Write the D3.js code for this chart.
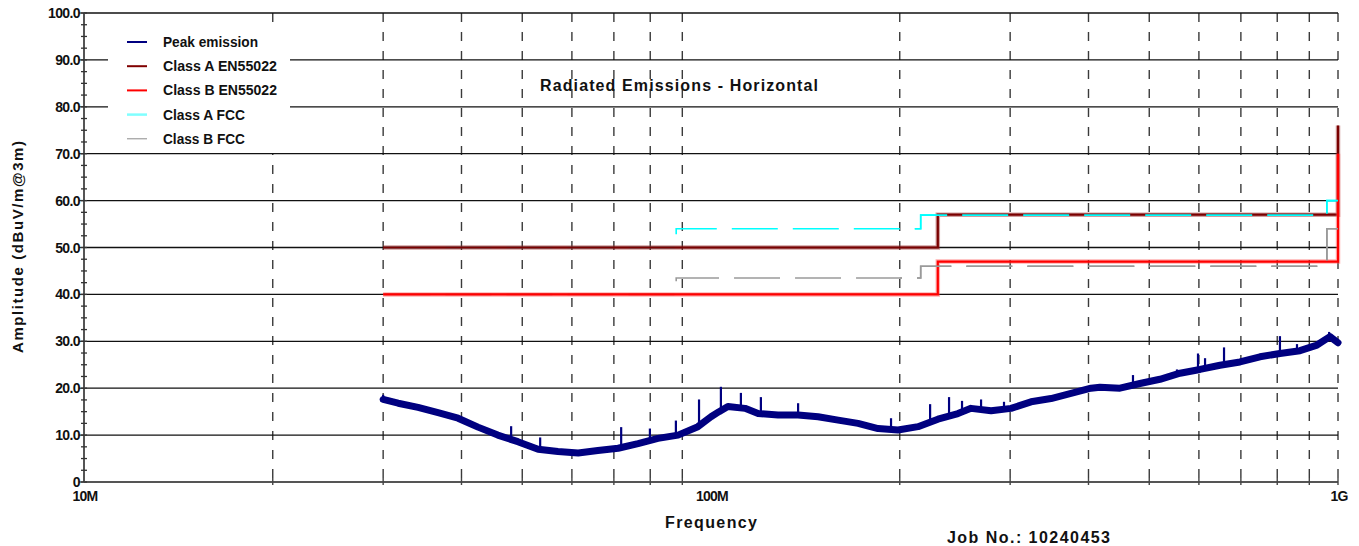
<!DOCTYPE html>
<html><head><meta charset="utf-8">
<script src="https://cdn.jsdelivr.net/npm/d3@7/dist/d3.min.js"></script>
<style>
html,body{margin:0;padding:0;background:#fff;}
svg{display:block;font-family:"Liberation Sans",Arial,sans-serif;}
</style></head>
<body>
<svg id="chart" width="1359" height="546"></svg>
<script>
// ---- data (frequency in MHz, level in dBuV/m) ----
const yTicks = [0,10,20,30,40,50,60,70,80,90,100];
const yTickLabels = ["0","10.0","20.0","30.0","40.0","50.0","60.0","70.0","80.0","90.0","100.0"];
const xTickValues = [10,100,1000];
const xTickLabels = ["10M","100M","1G"];
const gridFreqs = [20,30,40,50,60,70,80,90,200,300,400,500,600,700,800,900,1000];

const peakFreq  = [30.0,31.7,34.1,36.7,39.5,42.5,45.7,49.2,53.0,57.0,61.4,66.0,71.1,76.5,82.3,88.6,95.3,100,103,106.4,113.3,118.9,127.9,137.7,148.2,159.5,171.6,184.7,198.7,213.9,230.1,247.7,259.8,279.7,301,323.9,348.6,375.1,403.7,417.2,449,483.2,520,559.8,602.4,648.3,697.7,750.8,808,869.6,925.7,970.9,1000];
const peakLevel = [17.6,16.8,15.9,14.8,13.6,11.7,10.0,8.6,7.0,6.5,6.2,6.7,7.2,8.2,9.3,10.0,11.8,13.9,15.0,16.1,15.7,14.6,14.3,14.3,13.9,13.2,12.5,11.4,11.1,11.8,13.4,14.6,15.7,15.2,15.7,17.1,17.8,18.9,20.0,20.2,20.0,21.0,21.9,23.2,24.0,24.9,25.6,26.7,27.4,28.0,29.2,31.0,29.7];
const spikeFreq = [30.0,48.0,53.4,71.9,79.9,87.9,95.7,103.7,111.6,120.1,137.7,193.7,223.6,239.7,251.4,269.6,293.3,471,553.6,598,613.7,658,808,860.2,968];
const spikeTop  = [18.6,11.9,9.5,11.7,11.4,13.1,17.6,20.3,19.0,18.1,16.8,13.6,16.6,18.1,17.3,17.6,17.1,22.8,24.0,27.4,26.4,28.7,31.1,29.4,32.0];

const classAEN_f  = [30,230,230,1000,1000];
const classAEN_v  = [50,50,57,57,76];
const classBEN_f  = [30,230,230,1000,1000];
const classBEN_v  = [40,40,47,47,70];
const classAFCC_f = [30,88,88,216,216,960,960,1000];
const classAFCC_v = [50,50,54,54,56.9,56.9,60,60];
const classBFCC_f = [30,88,88,216,216,960,960,1000];
const classBFCC_v = [40,40,43.5,43.5,46,46,54,54];

const legendNames = ["Peak emission","Class A EN55022","Class B EN55022","Class A FCC","Class B FCC"];

// ---- layout ----
const svg = d3.select("#chart");
const x = d3.scaleLog().domain([10,1000]).range([84,1338]);
const y = d3.scaleLinear().domain([0,100]).range([482,13]);

// vertical dashed grid
svg.append("g").selectAll("line").data(gridFreqs).join("line")
  .attr("x1",d=>x(d)).attr("x2",d=>x(d)).attr("y1",y(100)).attr("y2",y(0)+3)
  .attr("stroke","#3a3a3a").attr("stroke-width",1.4).attr("stroke-dasharray","9,10");

// horizontal solid grid
svg.append("g").selectAll("line").data(yTicks.filter(d=>d>0)).join("line")
  .attr("x1",x(10)).attr("x2",x(1000)).attr("y1",d=>y(d)).attr("y2",d=>y(d))
  .attr("stroke","#111").attr("stroke-width",1.3);

// x axis line + ticks
svg.append("line").attr("x1",x(10)).attr("x2",x(1000)).attr("y1",y(0)).attr("y2",y(0))
  .attr("stroke","#555").attr("stroke-width",2);
svg.append("g").selectAll("line").data(gridFreqs).join("line")
  .attr("x1",d=>x(d)).attr("x2",d=>x(d)).attr("y1",y(0)-4).attr("y2",y(0)+3)
  .attr("stroke","#444").attr("stroke-width",1.4);

// y axis
const minorTicks = d3.range(0,100.01,2.5);
svg.append("line").attr("x1",x(10)).attr("x2",x(10)).attr("y1",y(100)).attr("y2",y(0))
  .attr("stroke","#555").attr("stroke-width",2);
svg.append("g").selectAll("line").data(minorTicks).join("line")
  .attr("x1",x(10)-3).attr("x2",x(10)+3).attr("y1",d=>y(d)).attr("y2",d=>y(d))
  .attr("stroke","#333").attr("stroke-width",1.3);
svg.append("g").selectAll("line").data(yTicks).join("line")
  .attr("x1",x(10)-5).attr("x2",x(10)).attr("y1",d=>y(d)).attr("y2",d=>y(d))
  .attr("stroke","#333").attr("stroke-width",1.3);
svg.append("g").selectAll("text").data(yTicks).join("text")
  .attr("x",80).attr("y",d=>y(d)+5).attr("text-anchor","end")
  .attr("font-size",14).attr("font-weight","bold").attr("letter-spacing","-0.6")
  .attr("fill","#111").text((d,i)=>yTickLabels[i]);

// x tick labels
svg.append("g").selectAll("text").data(xTickValues).join("text")
  .attr("x",d=>x(d)+1).attr("y",501).attr("text-anchor","middle")
  .attr("font-size",14).attr("font-weight","bold").attr("letter-spacing","-0.8")
  .attr("fill","#111").text((d,i)=>xTickLabels[i]);

// title
svg.append("text").attr("x",540).attr("y",91).attr("font-size",16).attr("font-weight","bold")
  .attr("textLength",278).attr("lengthAdjust","spacing").attr("fill","#111")
  .text("Radiated Emissions - Horizontal");

// axis titles
svg.append("text").attr("transform","translate(23,247) rotate(-90)").attr("text-anchor","middle")
  .attr("font-size",15).attr("font-weight","bold").attr("fill","#111")
  .attr("textLength",212).attr("lengthAdjust","spacing")
  .text("Amplitude (dBuV/m@3m)");
svg.append("text").attr("x",665).attr("y",528).attr("font-size",16).attr("font-weight","bold")
  .attr("textLength",92).attr("lengthAdjust","spacing").attr("fill","#111").text("Frequency");
svg.append("text").attr("x",947).attr("y",543).attr("font-size",16).attr("font-weight","bold")
  .attr("textLength",163).attr("lengthAdjust","spacing").attr("fill","#111").text("Job No.: 10240453");

// limit lines
const lineGen = d3.line().x(d=>x(d[0])).y(d=>y(d[1]));
const zipP = (f,v)=>f.map((d,i)=>[d,v[i]]);
const plot = svg.append("g");
svg.append("defs").append("clipPath").attr("id","upperClip")
  .append("rect").attr("x",x(200)).attr("y",0).attr("width",1359-x(200)).attr("height",546);

function fccLines(g){
  g.append("path").attr("d",lineGen(zipP(classAFCC_f,classAFCC_v))).attr("fill","none")
    .attr("stroke","#00ffff").attr("stroke-width",1.6).attr("stroke-dasharray","46,15").attr("stroke-dashoffset",59.6);
  g.append("path").attr("d",lineGen(zipP(classBFCC_f,classBFCC_v))).attr("fill","none")
    .attr("stroke","#9a9a9a").attr("stroke-width",1.6).attr("stroke-dasharray","46,15").attr("stroke-dashoffset",59.7);
}
fccLines(plot.append("g"));

function enLine(f,v,col,halo){
  plot.append("path").attr("d",lineGen(zipP(f,v))).attr("fill","none")
    .attr("stroke",halo).attr("stroke-width",4.5).attr("stroke-linejoin","miter");
  plot.append("path").attr("d",lineGen(zipP(f,v))).attr("fill","none")
    .attr("stroke",col).attr("stroke-width",2.2).attr("stroke-linejoin","miter");
}
enLine(classAEN_f,classAEN_v,"#7a0000","rgba(150,40,40,0.45)");
enLine(classBEN_f,classBEN_v,"#ff0000","rgba(255,80,80,0.45)");
fccLines(plot.append("g").attr("clip-path","url(#upperClip)"));

// peak emission
const logF = peakFreq.map(Math.log10);
function baseAt(f){
  const lf = Math.log10(f);
  const i = Math.max(1, Math.min(d3.bisectLeft(logF, lf), logF.length-1));
  const t = (lf-logF[i-1])/(logF[i]-logF[i-1]);
  return peakLevel[i-1] + t*(peakLevel[i]-peakLevel[i-1]);
}
plot.append("path").attr("d",lineGen(zipP(peakFreq,peakLevel))).attr("fill","none")
  .attr("stroke","#000080").attr("stroke-width",7).attr("stroke-linejoin","round").attr("stroke-linecap","round");
plot.append("g").selectAll("line").data(spikeFreq).join("line")
  .attr("x1",d=>x(d)).attr("x2",d=>x(d))
  .attr("y1",(d,i)=>y(spikeTop[i])).attr("y2",d=>y(baseAt(d)))
  .attr("stroke","#000080").attr("stroke-width",2.2);

// legend
const lg = svg.append("g");
lg.append("rect").attr("x",108).attr("y",27).attr("width",182).attr("height",126).attr("fill","#fff");
const legendColors = ["#000080","#800000","#ff0000","#80ffff","#8a8a8a"];
const legendWidths = [2,2,2,2.5,1];
const legendTL = [95,114,114,82,82];
legendNames.forEach((n,i)=>{
  const yy = 42 + i*24.2;
  lg.append("line").attr("x1",127).attr("x2",147).attr("y1",yy).attr("y2",yy)
    .attr("stroke",legendColors[i]).attr("stroke-width",legendWidths[i]);
  lg.append("text").attr("x",163).attr("y",yy+5).attr("font-size",14).attr("font-weight","bold")
    .attr("fill","#111").attr("textLength",legendTL[i]).attr("lengthAdjust","spacingAndGlyphs").text(n);
});
</script>
</body></html>
